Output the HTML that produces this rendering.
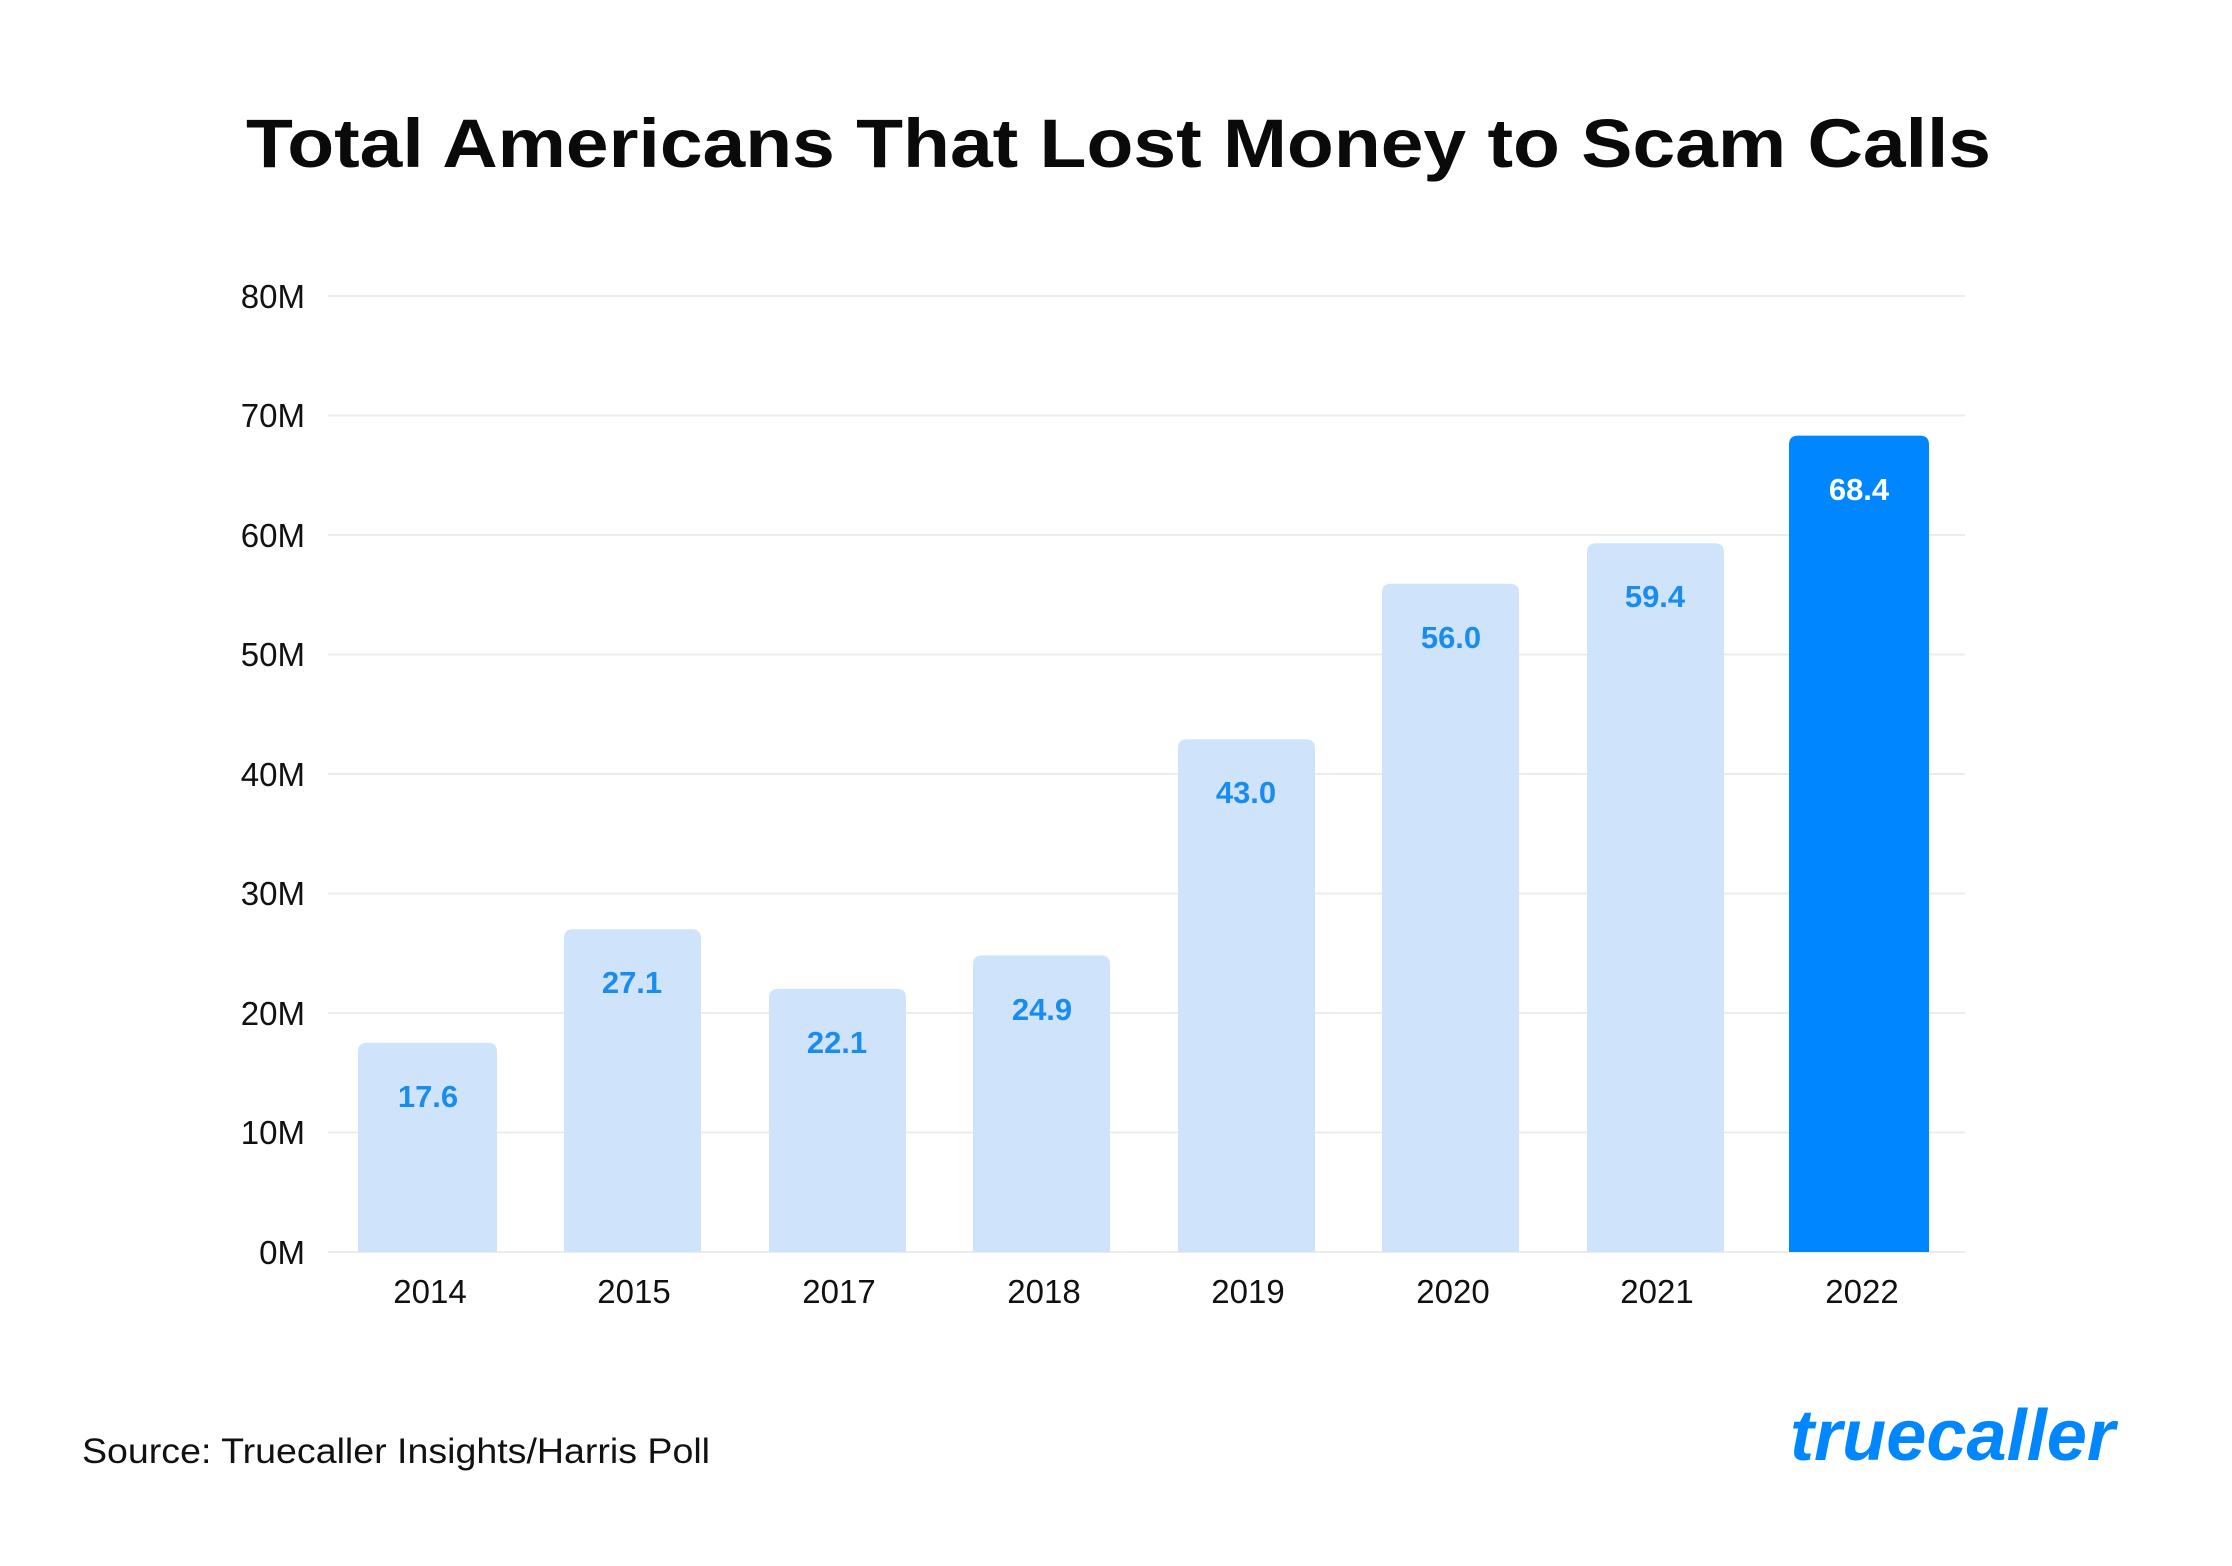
<!DOCTYPE html>
<html><head><meta charset="utf-8"><style>
html,body{margin:0;padding:0;background:#fff;}
svg{display:block;}
</style></head><body>
<svg width="2232" height="1566" viewBox="0 0 2232 1566" xmlns="http://www.w3.org/2000/svg">
<rect width="2232" height="1566" fill="#fff"/>
<text x="246" y="167" font-family="Liberation Sans, sans-serif" font-weight="bold" font-size="69" fill="#0a0a0a" textLength="1745" lengthAdjust="spacingAndGlyphs">Total Americans That Lost Money to Scam Calls</text>
<g stroke="#ececec" stroke-width="2">
<line x1="328" x2="1965" y1="296" y2="296"/>
<line x1="328" x2="1965" y1="415.5" y2="415.5"/>
<line x1="328" x2="1965" y1="535" y2="535"/>
<line x1="328" x2="1965" y1="654.5" y2="654.5"/>
<line x1="328" x2="1965" y1="774" y2="774"/>
<line x1="328" x2="1965" y1="893.5" y2="893.5"/>
<line x1="328" x2="1965" y1="1013" y2="1013"/>
<line x1="328" x2="1965" y1="1132.5" y2="1132.5"/>
<line x1="328" x2="1965" y1="1252" y2="1252"/>
</g>
<g font-family="Liberation Sans, sans-serif" font-size="33" fill="#111" text-anchor="end">
<text x="305" y="308">80M</text>
<text x="305" y="427">70M</text>
<text x="305" y="547">60M</text>
<text x="305" y="666">50M</text>
<text x="305" y="786">40M</text>
<text x="305" y="905">30M</text>
<text x="305" y="1025">20M</text>
<text x="305" y="1144">10M</text>
<text x="305" y="1264">0M</text>
</g>
<g fill="#cfe4fb">
<path d="M358,1252 V1051.7 q0,-9 9,-9 H488 q9,0 9,9 V1252 Z"/>
<path d="M564,1252 V938.2 q0,-9 9,-9 H692 q9,0 9,9 V1252 Z"/>
<path d="M769,1252 V997.9 q0,-9 9,-9 H897 q9,0 9,9 V1252 Z"/>
<path d="M973,1252 V964.4 q0,-9 9,-9 H1101 q9,0 9,9 V1252 Z"/>
<path d="M1178,1252 V748.2 q0,-9 9,-9 H1306 q9,0 9,9 V1252 Z"/>
<path d="M1382,1252 V592.8 q0,-9 9,-9 H1510 q9,0 9,9 V1252 Z"/>
<path d="M1587,1252 V552.2 q0,-9 9,-9 H1715 q9,0 9,9 V1252 Z"/>
</g>
<path d="M1789,1252 V444.6 q0,-9 9,-9 H1920 q9,0 9,9 V1252 Z" fill="#0087ff"/>
<g font-family="Liberation Sans, sans-serif" font-weight="bold" font-size="31" fill="#1a8cf0" text-anchor="middle">
<text x="428" y="1107">17.6</text>
<text x="632" y="993">27.1</text>
<text x="837" y="1053">22.1</text>
<text x="1042" y="1020">24.9</text>
<text x="1246" y="803">43.0</text>
<text x="1451" y="648">56.0</text>
<text x="1655" y="607">59.4</text>
<text x="1859" y="500" fill="#fff">68.4</text>
</g>
<g font-family="Liberation Sans, sans-serif" font-size="33" fill="#111" text-anchor="middle">
<text x="430" y="1303">2014</text>
<text x="634" y="1303">2015</text>
<text x="839" y="1303">2017</text>
<text x="1044" y="1303">2018</text>
<text x="1248" y="1303">2019</text>
<text x="1453" y="1303">2020</text>
<text x="1657" y="1303">2021</text>
<text x="1862" y="1303">2022</text>
</g>
<text x="82" y="1463" font-family="Liberation Sans, sans-serif" font-size="35" fill="#111" textLength="628" lengthAdjust="spacingAndGlyphs">Source: Truecaller Insights/Harris Poll</text>
<text x="1790" y="1460" font-family="Liberation Sans, sans-serif" font-weight="bold" font-style="italic" font-size="72" fill="#0087ff" textLength="325" lengthAdjust="spacingAndGlyphs">truecaller</text>
</svg>
</body></html>
